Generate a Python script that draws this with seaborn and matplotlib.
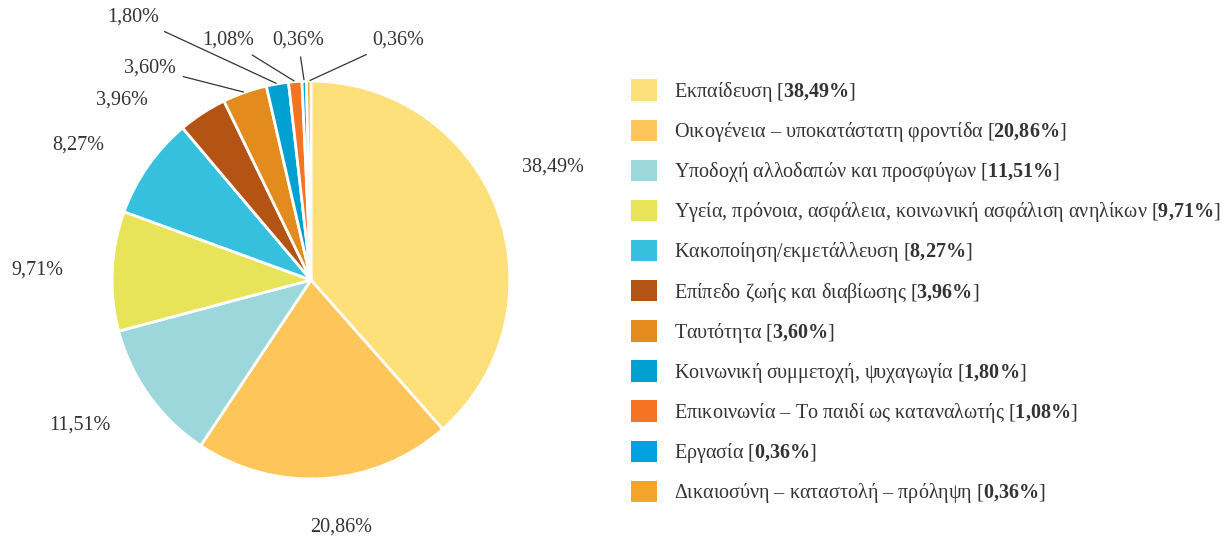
import matplotlib
matplotlib.use("Agg")
import matplotlib.pyplot as plt
import seaborn as sns
import numpy as np
from matplotlib.patches import Patch

categories = [
    "Εκπαίδευση",
    "Οικογένεια – υποκατάστατη φροντίδα",
    "Υποδοχή αλλοδαπών και προσφύγων",
    "Υγεία, πρόνοια, ασφάλεια, κοινωνική ασφάλιση ανηλίκων",
    "Κακοποίηση/εκμετάλλευση",
    "Επίπεδο ζωής και διαβίωσης",
    "Ταυτότητα",
    "Κοινωνική συμμετοχή, ψυχαγωγία",
    "Επικοινωνία – Το παιδί ως καταναλωτής",
    "Εργασία",
    "Δικαιοσύνη – καταστολή – πρόληψη",
]
values = [38.49, 20.86, 11.51, 9.71, 8.27, 3.96, 3.60, 1.80, 1.08, 0.36, 0.36]
colors = ["#FDE07A", "#FEC65A", "#9BD7DB", "#E8E45A", "#35C1DE", "#B35314",
          "#E38B1C", "#00A1D1", "#F47424", "#00A3E0", "#F3A42B"]

sns.set_theme(style="white")
plt.rcParams["font.family"] = ["Liberation Serif", "DejaVu Serif"]
plt.rcParams["mathtext.fontset"] = "custom"
plt.rcParams["mathtext.bf"] = "Liberation Serif:bold"
plt.rcParams["mathtext.rm"] = "Liberation Serif"

def fmt(v):
    return f"{v:.2f}".replace(".", ",") + "%"

fig = plt.figure(figsize=(12.32, 5.41), dpi=100)
ax = fig.add_axes([0.0909, 0.1146, 0.323, 0.7357])

wedges, _ = ax.pie(values, colors=colors, startangle=90, counterclock=False,
                   wedgeprops=dict(edgecolor="white", linewidth=2))
ax.set_xlim(-1, 1)
ax.set_ylim(-1, 1)
ax.set_aspect("equal")
ax.axis("off")

fs = 14.5
tcol = "#333333"
# label placement (pie radius units); leader lines for the thin slices
label_pos = [(1.216, 0.568), (0.151, -1.241), (-1.161, -0.729), (-1.377, 0.050),
             (-1.171, 0.678), (-0.95, 0.905), (-0.809, 1.065), (-0.894, 1.322),
             (-0.417, 1.206), (-0.065, 1.206), (0.437, 1.206)]
with_line = [False, False, False, False, False, False, True, True, True, True, True]

for i, w in enumerate(wedges):
    tx, ty = label_pos[i]
    ang = np.deg2rad((w.theta1 + w.theta2) / 2)
    if with_line[i]:
        ax.annotate(fmt(values[i]), xy=(np.cos(ang), np.sin(ang)), xytext=(tx, ty),
                    ha="center", va="center", fontsize=fs, color=tcol,
                    annotation_clip=False,
                    arrowprops=dict(arrowstyle="-", color=tcol, lw=0.9,
                                    shrinkA=3, shrinkB=1))
    else:
        ax.text(tx, ty, fmt(values[i]), ha="center", va="center", fontsize=fs,
                color=tcol, clip_on=False)

labels = []
for c, v in zip(categories, values):
    num = f"{v:.2f}".replace(".", "{,}")
    labels.append(c + " [$\\mathbf{" + num + "\\%}$]")
handles = [Patch(facecolor=col, edgecolor="none") for col in colors]
leg = fig.legend(handles, labels, loc="upper left",
                 bbox_to_anchor=(0.506, 0.868), frameon=False, fontsize=fs,
                 handlelength=1.25, handleheight=1.25, handletextpad=0.85,
                 labelspacing=0.78, borderaxespad=0)
for t in leg.get_texts():
    t.set_color(tcol)

fig.savefig("out.png", dpi=100)
